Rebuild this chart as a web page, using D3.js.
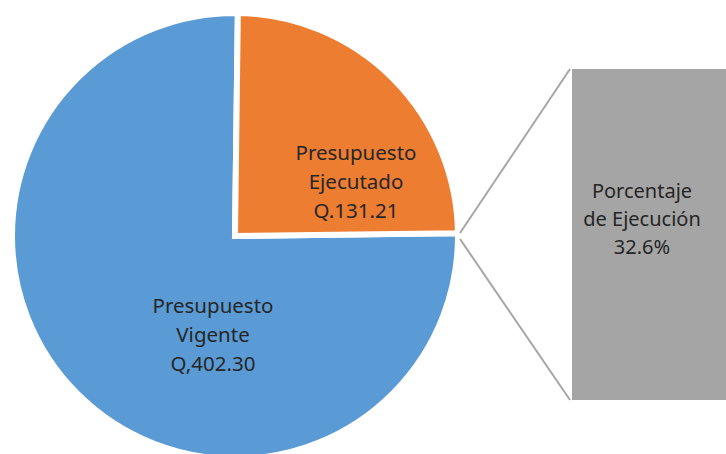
<!DOCTYPE html>
<html>
<head>
<meta charset="utf-8">
<script src="https://cdn.jsdelivr.net/npm/d3@7"></script>
<style>
  body { margin: 0; background: #fff; overflow: hidden; }
  svg text { font-family: "Noto Sans", sans-serif; fill: #262626; }
</style>
</head>
<body>
<div id="chart"></div>
<script>
// pie slices
var sliceNames = ['Presupuesto Vigente', 'Presupuesto Ejecutado'];
var sliceValues = [402.30, 131.21];
var sliceLabels = [
  ['Presupuesto', 'Vigente', 'Q,402.30'],
  ['Presupuesto', 'Ejecutado', 'Q.131.21']
];
// bar (percentage of execution)
var barNames = ['Porcentaje de Ejecución'];
var barValues = [32.6];
var barLabels = ['Porcentaje', 'de Ejecución', '32.6%'];

var colors = ['#5B9BD5', '#ED7D31'];
var barColor = '#A5A5A5';

var width = 726, height = 454;
var cx = 235, cy = 236, radius = 223;

var svg = d3.select('#chart')
  .append('svg')
  .attr('width', width)
  .attr('height', height)
  .style('display', 'block');

// orange slice goes clockwise from 12 o'clock, centered on the upper-right quadrant
var orangeAngle = 2 * Math.PI * sliceValues[1] / d3.sum(sliceValues);
var start = Math.PI / 4 - orangeAngle / 2;

var pie = d3.pie()
  .sort(null)
  .startAngle(start + orangeAngle)
  .endAngle(start + orangeAngle + 2 * Math.PI)
  .value(function (d) { return d; });

var arcs = pie(sliceValues);
var arc = d3.arc().innerRadius(0).outerRadius(radius);

var g = svg.append('g')
  .attr('transform', 'translate(' + cx + ',' + cy + ')');

g.selectAll('path.slice')
  .data(arcs)
  .enter()
  .append('path')
  .attr('class', 'slice')
  .attr('d', arc)
  .attr('fill', function (d, i) { return colors[i]; })
  .attr('stroke', '#fff')
  .attr('stroke-width', 6)
  .attr('stroke-linejoin', 'miter');

// slice labels
var labelPos = [[-22, 77], [121, -76]];
var lineH = 29;
g.selectAll('text.sliceLabel')
  .data(arcs)
  .enter()
  .append('text')
  .attr('class', 'sliceLabel')
  .attr('text-anchor', 'middle')
  .style('font-size', '20.5px')
  .each(function (d, i) {
    var t = d3.select(this);
    sliceLabels[i].forEach(function (line, j) {
      t.append('tspan')
        .attr('x', labelPos[i][0])
        .attr('y', labelPos[i][1] + j * lineH)
        .text(line);
    });
  });

// bar
var barLeft = 572, barTop = 69, barBottom = 400;
var xBar = d3.scaleBand().domain(barNames).range([barLeft, barLeft + 170]).padding(0);
var yBar = d3.scaleLinear().domain([0, barValues[0]]).range([barBottom, barTop]);

svg.selectAll('rect.bar')
  .data(barValues)
  .enter()
  .append('rect')
  .attr('class', 'bar')
  .attr('x', function (d, i) { return xBar(barNames[i]); })
  .attr('y', function (d) { return yBar(d); })
  .attr('width', xBar.bandwidth())
  .attr('height', function (d) { return yBar(0) - yBar(d); })
  .attr('fill', barColor);

// connector lines
var px = cx + radius + 2;
svg.append('line')
  .attr('x1', px).attr('y1', cy - 3)
  .attr('x2', barLeft - 2).attr('y2', yBar(barValues[0]))
  .attr('stroke', '#A6A6A6').attr('stroke-width', 2);
svg.append('line')
  .attr('x1', px).attr('y1', cy + 3)
  .attr('x2', barLeft - 2).attr('y2', yBar(0))
  .attr('stroke', '#A6A6A6').attr('stroke-width', 2);

// bar label
var barText = svg.append('text')
  .attr('text-anchor', 'middle')
  .style('font-size', '20px');
barLabels.forEach(function (line, j) {
  barText.append('tspan')
    .attr('x', 642)
    .attr('y', 198 + j * 28)
    .text(line);
});
</script>
</body>
</html>
